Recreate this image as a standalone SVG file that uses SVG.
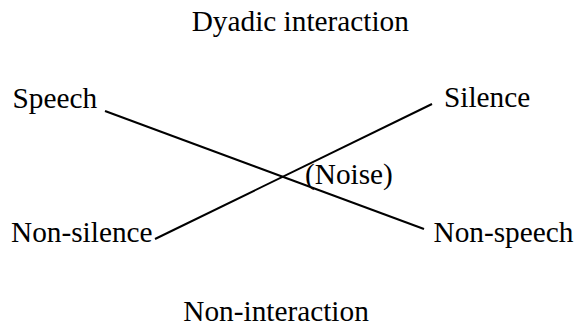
<svg xmlns="http://www.w3.org/2000/svg" width="579" height="327" viewBox="0 0 579 327">
  <style>
    .lbl { font-family: "Liberation Serif", "Times New Roman", serif; font-size: 29.3px; fill: #000; }
    .ax { stroke: #000; stroke-width: 2; fill: none; }
  </style>
  <rect width="579" height="327" fill="#fff"/>
  <g id="connectors">
    <line class="ax" x1="105" y1="111" x2="424" y2="229"/>
    <line class="ax" x1="432" y1="104" x2="155" y2="239"/>
  </g>
  <g id="title"><text class="lbl" x="191.7" y="31">Dyadic interaction</text></g>
  <g id="speech"><text class="lbl" x="12.5" y="108">Speech</text></g>
  <g id="silence"><text class="lbl" x="444" y="107">Silence</text></g>
  <g id="noise"><text class="lbl" x="305" y="183.5">(Noise)</text></g>
  <g id="non-silence"><text class="lbl" x="11" y="242">Non-silence</text></g>
  <g id="non-speech"><text class="lbl" x="433.5" y="242">Non-speech</text></g>
  <g id="non-interaction"><text class="lbl" x="183.3" y="321">Non-interaction</text></g>
</svg>
